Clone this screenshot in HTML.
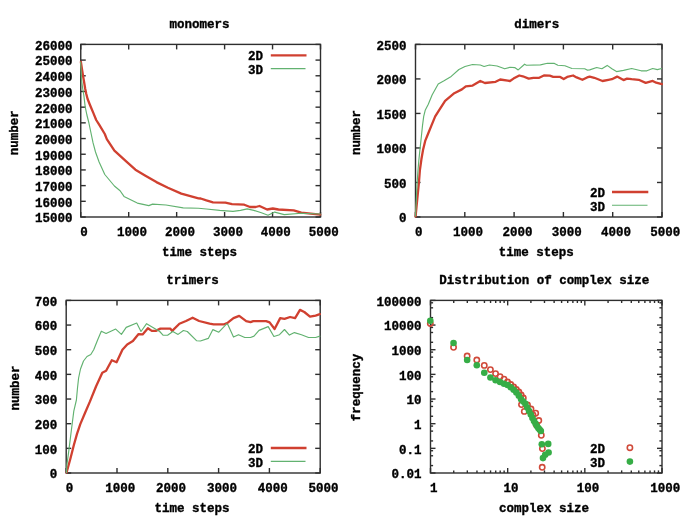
<!DOCTYPE html>
<html><head><meta charset="utf-8"><style>
html,body{margin:0;padding:0;background:#fff;}
svg{display:block;will-change:transform;}
</style></head><body>
<svg width="685" height="523" viewBox="0 0 685 523">
<rect width="685" height="523" fill="#fff"/>
<g style="font-family:'Liberation Mono',monospace;font-weight:bold;font-size:12.5px" fill="#000" stroke="#000" stroke-width="0.35">
<line x1="80.75" y1="217.00" x2="80.75" y2="212.00" stroke="#2e2e2e" stroke-width="1.4"/>
<line x1="80.75" y1="44.40" x2="80.75" y2="49.40" stroke="#2e2e2e" stroke-width="1.4"/>
<text x="84.05" y="235.70" text-anchor="middle" >0</text>
<line x1="128.70" y1="217.00" x2="128.70" y2="212.00" stroke="#2e2e2e" stroke-width="1.4"/>
<line x1="128.70" y1="44.40" x2="128.70" y2="49.40" stroke="#2e2e2e" stroke-width="1.4"/>
<text x="132.00" y="235.70" text-anchor="middle" >1000</text>
<line x1="176.65" y1="217.00" x2="176.65" y2="212.00" stroke="#2e2e2e" stroke-width="1.4"/>
<line x1="176.65" y1="44.40" x2="176.65" y2="49.40" stroke="#2e2e2e" stroke-width="1.4"/>
<text x="179.95" y="235.70" text-anchor="middle" >2000</text>
<line x1="224.60" y1="217.00" x2="224.60" y2="212.00" stroke="#2e2e2e" stroke-width="1.4"/>
<line x1="224.60" y1="44.40" x2="224.60" y2="49.40" stroke="#2e2e2e" stroke-width="1.4"/>
<text x="227.90" y="235.70" text-anchor="middle" >3000</text>
<line x1="272.55" y1="217.00" x2="272.55" y2="212.00" stroke="#2e2e2e" stroke-width="1.4"/>
<line x1="272.55" y1="44.40" x2="272.55" y2="49.40" stroke="#2e2e2e" stroke-width="1.4"/>
<text x="275.85" y="235.70" text-anchor="middle" >4000</text>
<line x1="320.50" y1="217.00" x2="320.50" y2="212.00" stroke="#2e2e2e" stroke-width="1.4"/>
<line x1="320.50" y1="44.40" x2="320.50" y2="49.40" stroke="#2e2e2e" stroke-width="1.4"/>
<text x="323.80" y="235.70" text-anchor="middle" >5000</text>
<line x1="80.75" y1="217.00" x2="85.75" y2="217.00" stroke="#2e2e2e" stroke-width="1.4"/>
<line x1="320.50" y1="217.00" x2="315.50" y2="217.00" stroke="#2e2e2e" stroke-width="1.4"/>
<text x="72.60" y="222.40" text-anchor="end" >15000</text>
<line x1="80.75" y1="201.31" x2="85.75" y2="201.31" stroke="#2e2e2e" stroke-width="1.4"/>
<line x1="320.50" y1="201.31" x2="315.50" y2="201.31" stroke="#2e2e2e" stroke-width="1.4"/>
<text x="72.60" y="206.71" text-anchor="end" >16000</text>
<line x1="80.75" y1="185.62" x2="85.75" y2="185.62" stroke="#2e2e2e" stroke-width="1.4"/>
<line x1="320.50" y1="185.62" x2="315.50" y2="185.62" stroke="#2e2e2e" stroke-width="1.4"/>
<text x="72.60" y="191.02" text-anchor="end" >17000</text>
<line x1="80.75" y1="169.93" x2="85.75" y2="169.93" stroke="#2e2e2e" stroke-width="1.4"/>
<line x1="320.50" y1="169.93" x2="315.50" y2="169.93" stroke="#2e2e2e" stroke-width="1.4"/>
<text x="72.60" y="175.33" text-anchor="end" >18000</text>
<line x1="80.75" y1="154.24" x2="85.75" y2="154.24" stroke="#2e2e2e" stroke-width="1.4"/>
<line x1="320.50" y1="154.24" x2="315.50" y2="154.24" stroke="#2e2e2e" stroke-width="1.4"/>
<text x="72.60" y="159.64" text-anchor="end" >19000</text>
<line x1="80.75" y1="138.55" x2="85.75" y2="138.55" stroke="#2e2e2e" stroke-width="1.4"/>
<line x1="320.50" y1="138.55" x2="315.50" y2="138.55" stroke="#2e2e2e" stroke-width="1.4"/>
<text x="72.60" y="143.95" text-anchor="end" >20000</text>
<line x1="80.75" y1="122.85" x2="85.75" y2="122.85" stroke="#2e2e2e" stroke-width="1.4"/>
<line x1="320.50" y1="122.85" x2="315.50" y2="122.85" stroke="#2e2e2e" stroke-width="1.4"/>
<text x="72.60" y="128.25" text-anchor="end" >21000</text>
<line x1="80.75" y1="107.16" x2="85.75" y2="107.16" stroke="#2e2e2e" stroke-width="1.4"/>
<line x1="320.50" y1="107.16" x2="315.50" y2="107.16" stroke="#2e2e2e" stroke-width="1.4"/>
<text x="72.60" y="112.56" text-anchor="end" >22000</text>
<line x1="80.75" y1="91.47" x2="85.75" y2="91.47" stroke="#2e2e2e" stroke-width="1.4"/>
<line x1="320.50" y1="91.47" x2="315.50" y2="91.47" stroke="#2e2e2e" stroke-width="1.4"/>
<text x="72.60" y="96.87" text-anchor="end" >23000</text>
<line x1="80.75" y1="75.78" x2="85.75" y2="75.78" stroke="#2e2e2e" stroke-width="1.4"/>
<line x1="320.50" y1="75.78" x2="315.50" y2="75.78" stroke="#2e2e2e" stroke-width="1.4"/>
<text x="72.60" y="81.18" text-anchor="end" >24000</text>
<line x1="80.75" y1="60.09" x2="85.75" y2="60.09" stroke="#2e2e2e" stroke-width="1.4"/>
<line x1="320.50" y1="60.09" x2="315.50" y2="60.09" stroke="#2e2e2e" stroke-width="1.4"/>
<text x="72.60" y="65.49" text-anchor="end" >25000</text>
<line x1="80.75" y1="44.40" x2="85.75" y2="44.40" stroke="#2e2e2e" stroke-width="1.4"/>
<line x1="320.50" y1="44.40" x2="315.50" y2="44.40" stroke="#2e2e2e" stroke-width="1.4"/>
<text x="72.60" y="49.80" text-anchor="end" >26000</text>
<rect x="80.75" y="44.40" width="239.75" height="172.60" fill="none" stroke="#2e2e2e" stroke-width="1.4"/>
<line x1="415.50" y1="217.00" x2="415.50" y2="212.00" stroke="#2e2e2e" stroke-width="1.4"/>
<line x1="415.50" y1="44.40" x2="415.50" y2="49.40" stroke="#2e2e2e" stroke-width="1.4"/>
<text x="418.80" y="235.70" text-anchor="middle" >0</text>
<line x1="464.80" y1="217.00" x2="464.80" y2="212.00" stroke="#2e2e2e" stroke-width="1.4"/>
<line x1="464.80" y1="44.40" x2="464.80" y2="49.40" stroke="#2e2e2e" stroke-width="1.4"/>
<text x="468.10" y="235.70" text-anchor="middle" >1000</text>
<line x1="514.10" y1="217.00" x2="514.10" y2="212.00" stroke="#2e2e2e" stroke-width="1.4"/>
<line x1="514.10" y1="44.40" x2="514.10" y2="49.40" stroke="#2e2e2e" stroke-width="1.4"/>
<text x="517.40" y="235.70" text-anchor="middle" >2000</text>
<line x1="563.40" y1="217.00" x2="563.40" y2="212.00" stroke="#2e2e2e" stroke-width="1.4"/>
<line x1="563.40" y1="44.40" x2="563.40" y2="49.40" stroke="#2e2e2e" stroke-width="1.4"/>
<text x="566.70" y="235.70" text-anchor="middle" >3000</text>
<line x1="612.70" y1="217.00" x2="612.70" y2="212.00" stroke="#2e2e2e" stroke-width="1.4"/>
<line x1="612.70" y1="44.40" x2="612.70" y2="49.40" stroke="#2e2e2e" stroke-width="1.4"/>
<text x="616.00" y="235.70" text-anchor="middle" >4000</text>
<line x1="662.00" y1="217.00" x2="662.00" y2="212.00" stroke="#2e2e2e" stroke-width="1.4"/>
<line x1="662.00" y1="44.40" x2="662.00" y2="49.40" stroke="#2e2e2e" stroke-width="1.4"/>
<text x="665.30" y="235.70" text-anchor="middle" >5000</text>
<line x1="415.50" y1="217.00" x2="420.50" y2="217.00" stroke="#2e2e2e" stroke-width="1.4"/>
<line x1="662.00" y1="217.00" x2="657.00" y2="217.00" stroke="#2e2e2e" stroke-width="1.4"/>
<text x="406.40" y="222.40" text-anchor="end" >0</text>
<line x1="415.50" y1="182.48" x2="420.50" y2="182.48" stroke="#2e2e2e" stroke-width="1.4"/>
<line x1="662.00" y1="182.48" x2="657.00" y2="182.48" stroke="#2e2e2e" stroke-width="1.4"/>
<text x="406.40" y="187.88" text-anchor="end" >500</text>
<line x1="415.50" y1="147.96" x2="420.50" y2="147.96" stroke="#2e2e2e" stroke-width="1.4"/>
<line x1="662.00" y1="147.96" x2="657.00" y2="147.96" stroke="#2e2e2e" stroke-width="1.4"/>
<text x="406.40" y="153.36" text-anchor="end" >1000</text>
<line x1="415.50" y1="113.44" x2="420.50" y2="113.44" stroke="#2e2e2e" stroke-width="1.4"/>
<line x1="662.00" y1="113.44" x2="657.00" y2="113.44" stroke="#2e2e2e" stroke-width="1.4"/>
<text x="406.40" y="118.84" text-anchor="end" >1500</text>
<line x1="415.50" y1="78.92" x2="420.50" y2="78.92" stroke="#2e2e2e" stroke-width="1.4"/>
<line x1="662.00" y1="78.92" x2="657.00" y2="78.92" stroke="#2e2e2e" stroke-width="1.4"/>
<text x="406.40" y="84.32" text-anchor="end" >2000</text>
<line x1="415.50" y1="44.40" x2="420.50" y2="44.40" stroke="#2e2e2e" stroke-width="1.4"/>
<line x1="662.00" y1="44.40" x2="657.00" y2="44.40" stroke="#2e2e2e" stroke-width="1.4"/>
<text x="406.40" y="49.80" text-anchor="end" >2500</text>
<rect x="415.50" y="44.40" width="246.50" height="172.60" fill="none" stroke="#2e2e2e" stroke-width="1.4"/>
<line x1="66.20" y1="473.00" x2="66.20" y2="468.00" stroke="#2e2e2e" stroke-width="1.4"/>
<line x1="66.20" y1="300.40" x2="66.20" y2="305.40" stroke="#2e2e2e" stroke-width="1.4"/>
<text x="69.50" y="491.70" text-anchor="middle" >0</text>
<line x1="117.00" y1="473.00" x2="117.00" y2="468.00" stroke="#2e2e2e" stroke-width="1.4"/>
<line x1="117.00" y1="300.40" x2="117.00" y2="305.40" stroke="#2e2e2e" stroke-width="1.4"/>
<text x="120.30" y="491.70" text-anchor="middle" >1000</text>
<line x1="167.80" y1="473.00" x2="167.80" y2="468.00" stroke="#2e2e2e" stroke-width="1.4"/>
<line x1="167.80" y1="300.40" x2="167.80" y2="305.40" stroke="#2e2e2e" stroke-width="1.4"/>
<text x="171.10" y="491.70" text-anchor="middle" >2000</text>
<line x1="218.60" y1="473.00" x2="218.60" y2="468.00" stroke="#2e2e2e" stroke-width="1.4"/>
<line x1="218.60" y1="300.40" x2="218.60" y2="305.40" stroke="#2e2e2e" stroke-width="1.4"/>
<text x="221.90" y="491.70" text-anchor="middle" >3000</text>
<line x1="269.40" y1="473.00" x2="269.40" y2="468.00" stroke="#2e2e2e" stroke-width="1.4"/>
<line x1="269.40" y1="300.40" x2="269.40" y2="305.40" stroke="#2e2e2e" stroke-width="1.4"/>
<text x="272.70" y="491.70" text-anchor="middle" >4000</text>
<line x1="320.20" y1="473.00" x2="320.20" y2="468.00" stroke="#2e2e2e" stroke-width="1.4"/>
<line x1="320.20" y1="300.40" x2="320.20" y2="305.40" stroke="#2e2e2e" stroke-width="1.4"/>
<text x="323.50" y="491.70" text-anchor="middle" >5000</text>
<line x1="66.20" y1="473.00" x2="71.20" y2="473.00" stroke="#2e2e2e" stroke-width="1.4"/>
<line x1="320.20" y1="473.00" x2="315.20" y2="473.00" stroke="#2e2e2e" stroke-width="1.4"/>
<text x="57.30" y="478.40" text-anchor="end" >0</text>
<line x1="66.20" y1="448.34" x2="71.20" y2="448.34" stroke="#2e2e2e" stroke-width="1.4"/>
<line x1="320.20" y1="448.34" x2="315.20" y2="448.34" stroke="#2e2e2e" stroke-width="1.4"/>
<text x="57.30" y="453.74" text-anchor="end" >100</text>
<line x1="66.20" y1="423.69" x2="71.20" y2="423.69" stroke="#2e2e2e" stroke-width="1.4"/>
<line x1="320.20" y1="423.69" x2="315.20" y2="423.69" stroke="#2e2e2e" stroke-width="1.4"/>
<text x="57.30" y="429.09" text-anchor="end" >200</text>
<line x1="66.20" y1="399.03" x2="71.20" y2="399.03" stroke="#2e2e2e" stroke-width="1.4"/>
<line x1="320.20" y1="399.03" x2="315.20" y2="399.03" stroke="#2e2e2e" stroke-width="1.4"/>
<text x="57.30" y="404.43" text-anchor="end" >300</text>
<line x1="66.20" y1="374.37" x2="71.20" y2="374.37" stroke="#2e2e2e" stroke-width="1.4"/>
<line x1="320.20" y1="374.37" x2="315.20" y2="374.37" stroke="#2e2e2e" stroke-width="1.4"/>
<text x="57.30" y="379.77" text-anchor="end" >400</text>
<line x1="66.20" y1="349.71" x2="71.20" y2="349.71" stroke="#2e2e2e" stroke-width="1.4"/>
<line x1="320.20" y1="349.71" x2="315.20" y2="349.71" stroke="#2e2e2e" stroke-width="1.4"/>
<text x="57.30" y="355.11" text-anchor="end" >500</text>
<line x1="66.20" y1="325.06" x2="71.20" y2="325.06" stroke="#2e2e2e" stroke-width="1.4"/>
<line x1="320.20" y1="325.06" x2="315.20" y2="325.06" stroke="#2e2e2e" stroke-width="1.4"/>
<text x="57.30" y="330.46" text-anchor="end" >600</text>
<line x1="66.20" y1="300.40" x2="71.20" y2="300.40" stroke="#2e2e2e" stroke-width="1.4"/>
<line x1="320.20" y1="300.40" x2="315.20" y2="300.40" stroke="#2e2e2e" stroke-width="1.4"/>
<text x="57.30" y="305.80" text-anchor="end" >700</text>
<rect x="66.20" y="300.40" width="254.00" height="172.60" fill="none" stroke="#2e2e2e" stroke-width="1.4"/>
<line x1="430.50" y1="473.00" x2="430.50" y2="468.00" stroke="#2e2e2e" stroke-width="1.4"/>
<line x1="430.50" y1="300.40" x2="430.50" y2="305.40" stroke="#2e2e2e" stroke-width="1.4"/>
<line x1="453.73" y1="473.00" x2="453.73" y2="470.40" stroke="#2e2e2e" stroke-width="1.4"/>
<line x1="453.73" y1="300.40" x2="453.73" y2="303.00" stroke="#2e2e2e" stroke-width="1.4"/>
<line x1="467.32" y1="473.00" x2="467.32" y2="470.40" stroke="#2e2e2e" stroke-width="1.4"/>
<line x1="467.32" y1="300.40" x2="467.32" y2="303.00" stroke="#2e2e2e" stroke-width="1.4"/>
<line x1="476.96" y1="473.00" x2="476.96" y2="470.40" stroke="#2e2e2e" stroke-width="1.4"/>
<line x1="476.96" y1="300.40" x2="476.96" y2="303.00" stroke="#2e2e2e" stroke-width="1.4"/>
<line x1="484.44" y1="473.00" x2="484.44" y2="470.40" stroke="#2e2e2e" stroke-width="1.4"/>
<line x1="484.44" y1="300.40" x2="484.44" y2="303.00" stroke="#2e2e2e" stroke-width="1.4"/>
<line x1="490.55" y1="473.00" x2="490.55" y2="470.40" stroke="#2e2e2e" stroke-width="1.4"/>
<line x1="490.55" y1="300.40" x2="490.55" y2="303.00" stroke="#2e2e2e" stroke-width="1.4"/>
<line x1="495.71" y1="473.00" x2="495.71" y2="470.40" stroke="#2e2e2e" stroke-width="1.4"/>
<line x1="495.71" y1="300.40" x2="495.71" y2="303.00" stroke="#2e2e2e" stroke-width="1.4"/>
<line x1="500.19" y1="473.00" x2="500.19" y2="470.40" stroke="#2e2e2e" stroke-width="1.4"/>
<line x1="500.19" y1="300.40" x2="500.19" y2="303.00" stroke="#2e2e2e" stroke-width="1.4"/>
<line x1="504.14" y1="473.00" x2="504.14" y2="470.40" stroke="#2e2e2e" stroke-width="1.4"/>
<line x1="504.14" y1="300.40" x2="504.14" y2="303.00" stroke="#2e2e2e" stroke-width="1.4"/>
<line x1="507.67" y1="473.00" x2="507.67" y2="468.00" stroke="#2e2e2e" stroke-width="1.4"/>
<line x1="507.67" y1="300.40" x2="507.67" y2="305.40" stroke="#2e2e2e" stroke-width="1.4"/>
<line x1="530.90" y1="473.00" x2="530.90" y2="470.40" stroke="#2e2e2e" stroke-width="1.4"/>
<line x1="530.90" y1="300.40" x2="530.90" y2="303.00" stroke="#2e2e2e" stroke-width="1.4"/>
<line x1="544.48" y1="473.00" x2="544.48" y2="470.40" stroke="#2e2e2e" stroke-width="1.4"/>
<line x1="544.48" y1="300.40" x2="544.48" y2="303.00" stroke="#2e2e2e" stroke-width="1.4"/>
<line x1="554.13" y1="473.00" x2="554.13" y2="470.40" stroke="#2e2e2e" stroke-width="1.4"/>
<line x1="554.13" y1="300.40" x2="554.13" y2="303.00" stroke="#2e2e2e" stroke-width="1.4"/>
<line x1="561.60" y1="473.00" x2="561.60" y2="470.40" stroke="#2e2e2e" stroke-width="1.4"/>
<line x1="561.60" y1="300.40" x2="561.60" y2="303.00" stroke="#2e2e2e" stroke-width="1.4"/>
<line x1="567.71" y1="473.00" x2="567.71" y2="470.40" stroke="#2e2e2e" stroke-width="1.4"/>
<line x1="567.71" y1="300.40" x2="567.71" y2="303.00" stroke="#2e2e2e" stroke-width="1.4"/>
<line x1="572.88" y1="473.00" x2="572.88" y2="470.40" stroke="#2e2e2e" stroke-width="1.4"/>
<line x1="572.88" y1="300.40" x2="572.88" y2="303.00" stroke="#2e2e2e" stroke-width="1.4"/>
<line x1="577.36" y1="473.00" x2="577.36" y2="470.40" stroke="#2e2e2e" stroke-width="1.4"/>
<line x1="577.36" y1="300.40" x2="577.36" y2="303.00" stroke="#2e2e2e" stroke-width="1.4"/>
<line x1="581.30" y1="473.00" x2="581.30" y2="470.40" stroke="#2e2e2e" stroke-width="1.4"/>
<line x1="581.30" y1="300.40" x2="581.30" y2="303.00" stroke="#2e2e2e" stroke-width="1.4"/>
<line x1="584.83" y1="473.00" x2="584.83" y2="468.00" stroke="#2e2e2e" stroke-width="1.4"/>
<line x1="584.83" y1="300.40" x2="584.83" y2="305.40" stroke="#2e2e2e" stroke-width="1.4"/>
<line x1="608.06" y1="473.00" x2="608.06" y2="470.40" stroke="#2e2e2e" stroke-width="1.4"/>
<line x1="608.06" y1="300.40" x2="608.06" y2="303.00" stroke="#2e2e2e" stroke-width="1.4"/>
<line x1="621.65" y1="473.00" x2="621.65" y2="470.40" stroke="#2e2e2e" stroke-width="1.4"/>
<line x1="621.65" y1="300.40" x2="621.65" y2="303.00" stroke="#2e2e2e" stroke-width="1.4"/>
<line x1="631.29" y1="473.00" x2="631.29" y2="470.40" stroke="#2e2e2e" stroke-width="1.4"/>
<line x1="631.29" y1="300.40" x2="631.29" y2="303.00" stroke="#2e2e2e" stroke-width="1.4"/>
<line x1="638.77" y1="473.00" x2="638.77" y2="470.40" stroke="#2e2e2e" stroke-width="1.4"/>
<line x1="638.77" y1="300.40" x2="638.77" y2="303.00" stroke="#2e2e2e" stroke-width="1.4"/>
<line x1="644.88" y1="473.00" x2="644.88" y2="470.40" stroke="#2e2e2e" stroke-width="1.4"/>
<line x1="644.88" y1="300.40" x2="644.88" y2="303.00" stroke="#2e2e2e" stroke-width="1.4"/>
<line x1="650.05" y1="473.00" x2="650.05" y2="470.40" stroke="#2e2e2e" stroke-width="1.4"/>
<line x1="650.05" y1="300.40" x2="650.05" y2="303.00" stroke="#2e2e2e" stroke-width="1.4"/>
<line x1="654.52" y1="473.00" x2="654.52" y2="470.40" stroke="#2e2e2e" stroke-width="1.4"/>
<line x1="654.52" y1="300.40" x2="654.52" y2="303.00" stroke="#2e2e2e" stroke-width="1.4"/>
<line x1="658.47" y1="473.00" x2="658.47" y2="470.40" stroke="#2e2e2e" stroke-width="1.4"/>
<line x1="658.47" y1="300.40" x2="658.47" y2="303.00" stroke="#2e2e2e" stroke-width="1.4"/>
<line x1="662.00" y1="473.00" x2="662.00" y2="468.00" stroke="#2e2e2e" stroke-width="1.4"/>
<line x1="662.00" y1="300.40" x2="662.00" y2="305.40" stroke="#2e2e2e" stroke-width="1.4"/>
<text x="433.80" y="491.70" text-anchor="middle" >1</text>
<text x="510.97" y="491.70" text-anchor="middle" >10</text>
<text x="588.13" y="491.70" text-anchor="middle" >100</text>
<text x="665.30" y="491.70" text-anchor="middle" >1000</text>
<line x1="430.50" y1="473.00" x2="435.50" y2="473.00" stroke="#2e2e2e" stroke-width="1.4"/>
<line x1="662.00" y1="473.00" x2="657.00" y2="473.00" stroke="#2e2e2e" stroke-width="1.4"/>
<text x="421.40" y="478.40" text-anchor="end" >0.01</text>
<line x1="430.50" y1="465.58" x2="433.10" y2="465.58" stroke="#2e2e2e" stroke-width="1.4"/>
<line x1="662.00" y1="465.58" x2="659.40" y2="465.58" stroke="#2e2e2e" stroke-width="1.4"/>
<line x1="430.50" y1="455.77" x2="433.10" y2="455.77" stroke="#2e2e2e" stroke-width="1.4"/>
<line x1="662.00" y1="455.77" x2="659.40" y2="455.77" stroke="#2e2e2e" stroke-width="1.4"/>
<line x1="430.50" y1="450.73" x2="433.10" y2="450.73" stroke="#2e2e2e" stroke-width="1.4"/>
<line x1="662.00" y1="450.73" x2="659.40" y2="450.73" stroke="#2e2e2e" stroke-width="1.4"/>
<line x1="430.50" y1="448.34" x2="435.50" y2="448.34" stroke="#2e2e2e" stroke-width="1.4"/>
<line x1="662.00" y1="448.34" x2="657.00" y2="448.34" stroke="#2e2e2e" stroke-width="1.4"/>
<text x="421.40" y="453.74" text-anchor="end" >0.1</text>
<line x1="430.50" y1="440.92" x2="433.10" y2="440.92" stroke="#2e2e2e" stroke-width="1.4"/>
<line x1="662.00" y1="440.92" x2="659.40" y2="440.92" stroke="#2e2e2e" stroke-width="1.4"/>
<line x1="430.50" y1="431.11" x2="433.10" y2="431.11" stroke="#2e2e2e" stroke-width="1.4"/>
<line x1="662.00" y1="431.11" x2="659.40" y2="431.11" stroke="#2e2e2e" stroke-width="1.4"/>
<line x1="430.50" y1="426.08" x2="433.10" y2="426.08" stroke="#2e2e2e" stroke-width="1.4"/>
<line x1="662.00" y1="426.08" x2="659.40" y2="426.08" stroke="#2e2e2e" stroke-width="1.4"/>
<line x1="430.50" y1="423.69" x2="435.50" y2="423.69" stroke="#2e2e2e" stroke-width="1.4"/>
<line x1="662.00" y1="423.69" x2="657.00" y2="423.69" stroke="#2e2e2e" stroke-width="1.4"/>
<text x="421.40" y="429.09" text-anchor="end" >1</text>
<line x1="430.50" y1="416.26" x2="433.10" y2="416.26" stroke="#2e2e2e" stroke-width="1.4"/>
<line x1="662.00" y1="416.26" x2="659.40" y2="416.26" stroke="#2e2e2e" stroke-width="1.4"/>
<line x1="430.50" y1="406.45" x2="433.10" y2="406.45" stroke="#2e2e2e" stroke-width="1.4"/>
<line x1="662.00" y1="406.45" x2="659.40" y2="406.45" stroke="#2e2e2e" stroke-width="1.4"/>
<line x1="430.50" y1="401.42" x2="433.10" y2="401.42" stroke="#2e2e2e" stroke-width="1.4"/>
<line x1="662.00" y1="401.42" x2="659.40" y2="401.42" stroke="#2e2e2e" stroke-width="1.4"/>
<line x1="430.50" y1="399.03" x2="435.50" y2="399.03" stroke="#2e2e2e" stroke-width="1.4"/>
<line x1="662.00" y1="399.03" x2="657.00" y2="399.03" stroke="#2e2e2e" stroke-width="1.4"/>
<text x="421.40" y="404.43" text-anchor="end" >10</text>
<line x1="430.50" y1="391.61" x2="433.10" y2="391.61" stroke="#2e2e2e" stroke-width="1.4"/>
<line x1="662.00" y1="391.61" x2="659.40" y2="391.61" stroke="#2e2e2e" stroke-width="1.4"/>
<line x1="430.50" y1="381.79" x2="433.10" y2="381.79" stroke="#2e2e2e" stroke-width="1.4"/>
<line x1="662.00" y1="381.79" x2="659.40" y2="381.79" stroke="#2e2e2e" stroke-width="1.4"/>
<line x1="430.50" y1="376.76" x2="433.10" y2="376.76" stroke="#2e2e2e" stroke-width="1.4"/>
<line x1="662.00" y1="376.76" x2="659.40" y2="376.76" stroke="#2e2e2e" stroke-width="1.4"/>
<line x1="430.50" y1="374.37" x2="435.50" y2="374.37" stroke="#2e2e2e" stroke-width="1.4"/>
<line x1="662.00" y1="374.37" x2="657.00" y2="374.37" stroke="#2e2e2e" stroke-width="1.4"/>
<text x="421.40" y="379.77" text-anchor="end" >100</text>
<line x1="430.50" y1="366.95" x2="433.10" y2="366.95" stroke="#2e2e2e" stroke-width="1.4"/>
<line x1="662.00" y1="366.95" x2="659.40" y2="366.95" stroke="#2e2e2e" stroke-width="1.4"/>
<line x1="430.50" y1="357.14" x2="433.10" y2="357.14" stroke="#2e2e2e" stroke-width="1.4"/>
<line x1="662.00" y1="357.14" x2="659.40" y2="357.14" stroke="#2e2e2e" stroke-width="1.4"/>
<line x1="430.50" y1="352.10" x2="433.10" y2="352.10" stroke="#2e2e2e" stroke-width="1.4"/>
<line x1="662.00" y1="352.10" x2="659.40" y2="352.10" stroke="#2e2e2e" stroke-width="1.4"/>
<line x1="430.50" y1="349.71" x2="435.50" y2="349.71" stroke="#2e2e2e" stroke-width="1.4"/>
<line x1="662.00" y1="349.71" x2="657.00" y2="349.71" stroke="#2e2e2e" stroke-width="1.4"/>
<text x="421.40" y="355.11" text-anchor="end" >1000</text>
<line x1="430.50" y1="342.29" x2="433.10" y2="342.29" stroke="#2e2e2e" stroke-width="1.4"/>
<line x1="662.00" y1="342.29" x2="659.40" y2="342.29" stroke="#2e2e2e" stroke-width="1.4"/>
<line x1="430.50" y1="332.48" x2="433.10" y2="332.48" stroke="#2e2e2e" stroke-width="1.4"/>
<line x1="662.00" y1="332.48" x2="659.40" y2="332.48" stroke="#2e2e2e" stroke-width="1.4"/>
<line x1="430.50" y1="327.45" x2="433.10" y2="327.45" stroke="#2e2e2e" stroke-width="1.4"/>
<line x1="662.00" y1="327.45" x2="659.40" y2="327.45" stroke="#2e2e2e" stroke-width="1.4"/>
<line x1="430.50" y1="325.06" x2="435.50" y2="325.06" stroke="#2e2e2e" stroke-width="1.4"/>
<line x1="662.00" y1="325.06" x2="657.00" y2="325.06" stroke="#2e2e2e" stroke-width="1.4"/>
<text x="421.40" y="330.46" text-anchor="end" >10000</text>
<line x1="430.50" y1="317.63" x2="433.10" y2="317.63" stroke="#2e2e2e" stroke-width="1.4"/>
<line x1="662.00" y1="317.63" x2="659.40" y2="317.63" stroke="#2e2e2e" stroke-width="1.4"/>
<line x1="430.50" y1="307.82" x2="433.10" y2="307.82" stroke="#2e2e2e" stroke-width="1.4"/>
<line x1="662.00" y1="307.82" x2="659.40" y2="307.82" stroke="#2e2e2e" stroke-width="1.4"/>
<line x1="430.50" y1="302.79" x2="433.10" y2="302.79" stroke="#2e2e2e" stroke-width="1.4"/>
<line x1="662.00" y1="302.79" x2="659.40" y2="302.79" stroke="#2e2e2e" stroke-width="1.4"/>
<line x1="430.50" y1="300.40" x2="435.50" y2="300.40" stroke="#2e2e2e" stroke-width="1.4"/>
<line x1="662.00" y1="300.40" x2="657.00" y2="300.40" stroke="#2e2e2e" stroke-width="1.4"/>
<text x="421.40" y="305.80" text-anchor="end" >100000</text>
<rect x="430.50" y="300.40" width="231.50" height="172.60" fill="none" stroke="#2e2e2e" stroke-width="1.4"/>
<text x="199.50" y="28.00" text-anchor="middle" >monomers</text>
<text x="536.80" y="27.50" text-anchor="middle" >dimers</text>
<text x="192.60" y="284.00" text-anchor="middle" >trimers</text>
<text x="544.20" y="284.00" text-anchor="middle" >Distribution of complex size</text>
<text x="199.50" y="255.80" text-anchor="middle" >time steps</text>
<text x="536.30" y="255.80" text-anchor="middle" >time steps</text>
<text x="192.00" y="511.80" text-anchor="middle" >time steps</text>
<text x="544.10" y="511.90" text-anchor="middle" >complex size</text>
<text x="0" y="0" text-anchor="middle" transform="translate(18.20,132.80) rotate(-90)">number</text>
<text x="0" y="0" text-anchor="middle" transform="translate(360.30,132.50) rotate(-90)">number</text>
<text x="0" y="0" text-anchor="middle" transform="translate(19.00,388.00) rotate(-90)">number</text>
<text x="0" y="0" text-anchor="middle" transform="translate(359.60,387.60) rotate(-90)">frequency</text>
<text x="248.00" y="60.00" text-anchor="start" >2D</text>
<text x="248.00" y="73.60" text-anchor="start" >3D</text>
<text x="590.00" y="197.30" text-anchor="start" >2D</text>
<text x="590.00" y="210.60" text-anchor="start" >3D</text>
<text x="248.00" y="453.20" text-anchor="start" >2D</text>
<text x="248.00" y="466.80" text-anchor="start" >3D</text>
<text x="590.00" y="452.90" text-anchor="start" >2D</text>
<text x="590.00" y="466.70" text-anchor="start" >3D</text>
</g>
<polyline points="80.9,62.0 81.8,68.0 82.9,75.0 84.1,82.0 85.2,88.7 86.3,94.0 87.6,99.0 90.0,105.0 93.3,112.9 96.2,120.0 99.0,124.4 104.8,134.0 106.8,139.1 114.4,150.6 125.9,161.1 135.4,169.7 145.0,175.4 156.4,182.1 167.9,187.8 181.3,193.6 198.5,198.3 200.7,198.5 206.4,200.4 213.0,202.3 225.4,202.6 232.0,204.2 244.3,204.7 250.0,207.0 255.7,207.0 259.5,206.0 267.1,209.5 272.8,208.5 278.5,209.5 293.7,210.4 301.3,212.7 320.2,214.6" fill="none" stroke="#d04030" stroke-width="2.3" stroke-linejoin="round" stroke-linecap="round"/>
<polyline points="415.6,216.5 416.5,207.0 417.3,198.8 419.0,181.6 419.9,170.0 421.4,159.3 423.0,150.1 425.2,140.9 428.3,133.3 431.4,125.6 435.2,116.4 439.0,110.3 445.1,100.9 454.3,93.2 461.9,89.4 465.8,86.3 472.6,85.6 480.3,81.0 484.9,83.0 495.6,81.8 500.2,79.5 507.8,80.7 510.0,81.0 513.5,78.6 519.3,75.5 522.8,76.3 528.7,78.6 533.4,77.8 539.2,77.8 543.9,75.5 549.7,75.7 553.2,76.9 560.2,76.9 563.7,79.0 567.2,76.9 573.1,75.5 576.6,77.4 582.4,79.8 587.1,77.4 589.7,76.6 594.3,77.8 602.5,81.0 608.4,79.8 611.9,79.2 617.1,76.6 623.5,80.1 627.0,78.6 631.7,79.2 638.7,79.8 645.7,82.9 652.7,80.9 656.2,82.7 661.8,84.1" fill="none" stroke="#d04030" stroke-width="2.3" stroke-linejoin="round" stroke-linecap="round"/>
<polyline points="66.6,472.5 70.5,458.3 73.8,445.3 77.0,433.9 80.3,424.1 85.1,412.8 90.0,401.4 96.0,386.5 102.3,372.7 106.1,370.8 111.8,360.3 116.6,362.2 122.4,349.8 127.2,344.4 132.9,341.1 138.6,334.1 142.6,334.4 147.9,328.2 151.8,330.9 155.8,330.9 160.4,328.6 170.2,328.6 172.2,330.9 179.4,323.7 186.0,321.0 192.6,317.7 199.1,321.0 209.6,323.7 213.6,324.3 224.1,324.3 227.8,322.7 233.5,318.1 239.2,315.9 246.2,321.2 250.5,322.2 253.3,321.2 266.1,321.2 269.6,322.4 274.6,329.0 280.2,318.1 284.5,318.8 290.1,317.0 295.1,318.1 300.0,309.9 304.3,312.0 310.0,316.7 315.6,315.6 319.9,314.2" fill="none" stroke="#d04030" stroke-width="2.3" stroke-linejoin="round" stroke-linecap="round"/>
<polyline points="80.6,62.0 80.9,67.0 81.5,79.5 82.6,88.0 83.8,95.0 85.2,106.9 86.9,115.0 88.8,122.5 91.0,133.0 93.0,142.7 95.5,152.0 99.1,162.0 104.8,174.5 114.4,186.0 120.1,190.7 124.0,196.4 137.3,203.1 148.8,205.6 152.6,204.1 166.0,205.0 183.2,207.9 198.5,208.3 206.4,209.0 219.7,210.4 233.0,211.4 240.5,210.4 247.2,208.9 253.8,210.4 261.4,212.7 268.0,215.2 274.7,212.1 284.2,214.6 301.3,213.3 320.2,214.0" fill="none" stroke="#62b270" stroke-width="1.15" stroke-linejoin="round" stroke-linecap="round"/>
<polyline points="415.5,216.0 416.3,200.0 417.0,185.0 417.9,171.5 418.8,160.8 419.9,150.1 421.4,136.3 422.5,125.6 423.7,116.4 425.2,110.3 428.3,104.2 432.1,95.0 438.2,84.0 443.6,81.0 451.2,76.4 458.9,69.5 465.0,66.5 472.6,64.5 480.3,65.0 484.1,66.5 489.5,65.0 497.1,66.0 504.7,68.8 510.0,67.3 514.7,67.6 518.2,69.9 524.6,64.2 526.4,65.2 540.4,64.9 547.4,63.2 554.4,63.4 557.9,65.2 564.9,65.8 571.9,68.5 584.7,68.7 587.1,70.1 589.7,69.9 596.7,67.5 601.9,68.7 607.2,65.4 611.9,68.7 616.5,71.6 623.5,70.4 631.7,68.5 641.1,70.8 646.9,70.8 652.7,68.5 657.4,69.6 661.5,68.5" fill="none" stroke="#62b270" stroke-width="1.15" stroke-linejoin="round" stroke-linecap="round"/>
<polyline points="66.5,472.5 66.9,464.8 68.9,450.2 71.3,430.7 73.8,411.1 76.4,400.0 77.5,388.0 78.6,378.0 80.5,369.0 83.5,361.0 87.0,356.5 90.8,354.5 93.7,349.8 97.5,340.2 101.3,331.2 106.1,333.5 115.7,329.1 121.4,334.4 126.2,327.4 136.7,323.0 141.0,331.5 146.6,323.7 159.7,331.5 163.0,335.2 167.6,335.2 172.8,331.5 178.1,334.4 183.4,330.5 187.3,331.5 196.5,340.7 200.4,341.0 208.3,338.4 212.9,329.6 218.8,332.2 226.7,323.9 227.8,324.4 233.5,337.1 238.5,334.7 244.8,337.5 250.5,337.5 254.0,336.1 259.0,330.4 268.2,326.6 273.9,336.5 279.5,334.7 284.5,329.5 289.4,335.1 294.4,332.6 301.5,334.7 308.5,337.5 315.6,337.5 319.9,336.1" fill="none" stroke="#62b270" stroke-width="1.15" stroke-linejoin="round" stroke-linecap="round"/>
<line x1="270.80" y1="55.30" x2="306.50" y2="55.30" stroke="#d04030" stroke-width="2.3"/>
<line x1="270.80" y1="68.60" x2="305.50" y2="68.60" stroke="#62b270" stroke-width="1.15"/>
<line x1="612.00" y1="192.00" x2="648.30" y2="192.00" stroke="#d04030" stroke-width="2.3"/>
<line x1="612.00" y1="205.20" x2="647.50" y2="205.20" stroke="#62b270" stroke-width="1.15"/>
<line x1="270.80" y1="448.00" x2="306.50" y2="448.00" stroke="#d04030" stroke-width="2.3"/>
<line x1="270.80" y1="461.30" x2="305.50" y2="461.30" stroke="#62b270" stroke-width="1.15"/>
<circle cx="430.30" cy="323.50" r="2.65" fill="none" stroke="#d04a3a" stroke-width="1.6"/>
<circle cx="453.55" cy="347.30" r="2.65" fill="none" stroke="#d04a3a" stroke-width="1.6"/>
<circle cx="467.15" cy="356.00" r="2.65" fill="none" stroke="#d04a3a" stroke-width="1.6"/>
<circle cx="476.80" cy="360.00" r="2.65" fill="none" stroke="#d04a3a" stroke-width="1.6"/>
<circle cx="484.28" cy="365.40" r="2.65" fill="none" stroke="#d04a3a" stroke-width="1.6"/>
<circle cx="490.40" cy="369.60" r="2.65" fill="none" stroke="#d04a3a" stroke-width="1.6"/>
<circle cx="495.57" cy="373.60" r="2.65" fill="none" stroke="#d04a3a" stroke-width="1.6"/>
<circle cx="500.05" cy="376.70" r="2.65" fill="none" stroke="#d04a3a" stroke-width="1.6"/>
<circle cx="504.00" cy="379.20" r="2.65" fill="none" stroke="#d04a3a" stroke-width="1.6"/>
<circle cx="507.53" cy="382.00" r="2.65" fill="none" stroke="#d04a3a" stroke-width="1.6"/>
<circle cx="510.73" cy="384.50" r="2.65" fill="none" stroke="#d04a3a" stroke-width="1.6"/>
<circle cx="513.65" cy="387.00" r="2.65" fill="none" stroke="#d04a3a" stroke-width="1.6"/>
<circle cx="516.33" cy="389.50" r="2.65" fill="none" stroke="#d04a3a" stroke-width="1.6"/>
<circle cx="518.82" cy="392.00" r="2.65" fill="none" stroke="#d04a3a" stroke-width="1.6"/>
<circle cx="521.13" cy="395.00" r="2.65" fill="none" stroke="#d04a3a" stroke-width="1.6"/>
<circle cx="523.30" cy="398.00" r="2.65" fill="none" stroke="#d04a3a" stroke-width="1.6"/>
<circle cx="521.50" cy="404.60" r="2.65" fill="none" stroke="#d04a3a" stroke-width="1.6"/>
<circle cx="524.30" cy="411.40" r="2.65" fill="none" stroke="#d04a3a" stroke-width="1.6"/>
<circle cx="527.50" cy="405.00" r="2.65" fill="none" stroke="#d04a3a" stroke-width="1.6"/>
<circle cx="535.70" cy="413.20" r="2.65" fill="none" stroke="#d04a3a" stroke-width="1.6"/>
<circle cx="538.80" cy="420.50" r="2.65" fill="none" stroke="#d04a3a" stroke-width="1.6"/>
<circle cx="531.00" cy="409.00" r="2.65" fill="none" stroke="#d04a3a" stroke-width="1.6"/>
<circle cx="533.00" cy="415.00" r="2.65" fill="none" stroke="#d04a3a" stroke-width="1.6"/>
<circle cx="536.50" cy="425.00" r="2.65" fill="none" stroke="#d04a3a" stroke-width="1.6"/>
<circle cx="541.30" cy="435.30" r="2.65" fill="none" stroke="#d04a3a" stroke-width="1.6"/>
<circle cx="542.40" cy="448.60" r="2.65" fill="none" stroke="#d04a3a" stroke-width="1.6"/>
<circle cx="542.20" cy="467.30" r="2.65" fill="none" stroke="#d04a3a" stroke-width="1.6"/>
<circle cx="430.30" cy="320.80" r="3.3" fill="#36ad46"/>
<circle cx="453.55" cy="343.00" r="3.3" fill="#36ad46"/>
<circle cx="467.15" cy="360.00" r="3.3" fill="#36ad46"/>
<circle cx="476.80" cy="365.30" r="3.3" fill="#36ad46"/>
<circle cx="484.28" cy="372.80" r="3.3" fill="#36ad46"/>
<circle cx="490.40" cy="377.50" r="3.3" fill="#36ad46"/>
<circle cx="495.57" cy="380.20" r="3.3" fill="#36ad46"/>
<circle cx="500.05" cy="382.00" r="3.3" fill="#36ad46"/>
<circle cx="504.00" cy="383.70" r="3.3" fill="#36ad46"/>
<circle cx="507.53" cy="385.00" r="3.3" fill="#36ad46"/>
<circle cx="510.73" cy="387.30" r="3.3" fill="#36ad46"/>
<circle cx="513.65" cy="389.70" r="3.3" fill="#36ad46"/>
<circle cx="516.33" cy="392.50" r="3.3" fill="#36ad46"/>
<circle cx="518.82" cy="395.80" r="3.3" fill="#36ad46"/>
<circle cx="521.13" cy="399.20" r="3.3" fill="#36ad46"/>
<circle cx="523.30" cy="401.50" r="3.3" fill="#36ad46"/>
<circle cx="525.33" cy="403.80" r="3.3" fill="#36ad46"/>
<circle cx="527.25" cy="407.50" r="3.3" fill="#36ad46"/>
<circle cx="529.06" cy="411.00" r="3.3" fill="#36ad46"/>
<circle cx="530.78" cy="414.50" r="3.3" fill="#36ad46"/>
<circle cx="532.42" cy="418.00" r="3.3" fill="#36ad46"/>
<circle cx="533.98" cy="421.00" r="3.3" fill="#36ad46"/>
<circle cx="535.47" cy="423.50" r="3.3" fill="#36ad46"/>
<circle cx="536.90" cy="426.00" r="3.3" fill="#36ad46"/>
<circle cx="538.27" cy="428.00" r="3.3" fill="#36ad46"/>
<circle cx="539.58" cy="429.50" r="3.3" fill="#36ad46"/>
<circle cx="540.85" cy="431.00" r="3.3" fill="#36ad46"/>
<circle cx="541.80" cy="444.30" r="3.3" fill="#36ad46"/>
<circle cx="548.20" cy="443.90" r="3.3" fill="#36ad46"/>
<circle cx="548.60" cy="452.50" r="3.3" fill="#36ad46"/>
<circle cx="545.20" cy="454.70" r="3.3" fill="#36ad46"/>
<circle cx="543.00" cy="458.10" r="3.3" fill="#36ad46"/>
<circle cx="629.9" cy="447.7" r="2.65" fill="none" stroke="#d04a3a" stroke-width="1.6"/>
<circle cx="629.9" cy="461.6" r="3.3" fill="#36ad46"/>
</svg>
</body></html>
